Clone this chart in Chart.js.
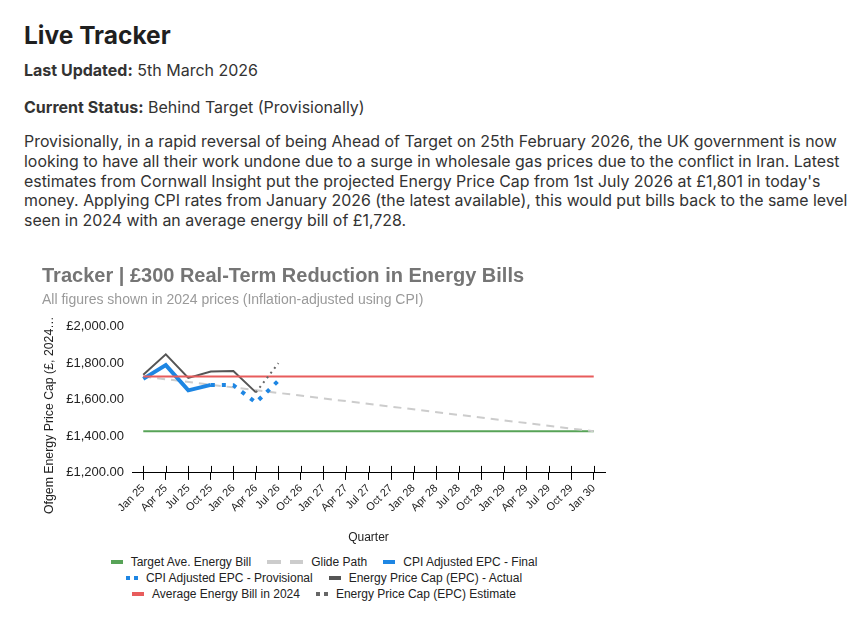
<!DOCTYPE html>
<html>
<head>
<meta charset="utf-8">
<script src="https://cdn.jsdelivr.net/npm/chart.js@4"></script>
<style>
  body { margin: 0; background: #fff; font-family: Inter, "Noto Sans", sans-serif; color: #333; }
  h1 { position: absolute; left: 24px; top: 20px; margin: 0; font-size: 24.5px; font-weight: 700; color: #1f1f1f; }
  .line { position: absolute; left: 24px; margin: 0; font-size: 16px; }
  .line b { color: #333; font-weight: 700; }
  #para { position: absolute; left: 24px; top: 132px; width: 830px; margin: 0; font-size: 15.92px; line-height: 19.8px; }
  #wrap { position: absolute; left: 24px; top: 252px; width: 600px; height: 293px; }
  #legend { position: absolute; left: 24px; top: 554px; width: 600px; font-family: "Liberation Sans", Arial, sans-serif; font-size: 12px; color: #222; }
  .row { display: flex; justify-content: center; height: 16px; align-items: center; }
  .item { display: flex; align-items: center; margin: 0 8px; }
  .item svg { margin-right: 8px; }
</style>
</head>
<body>
<h1>Live Tracker</h1>
<p class="line" style="top:60px"><b>Last Updated:</b> 5th March 2026</p>
<p class="line" style="top:97px"><b>Current Status:</b> Behind Target (Provisionally)</p>
<p id="para">Provisionally, in a rapid reversal of being Ahead of Target on 25th February 2026, the UK government is now looking to have all their work undone due to a surge in wholesale gas prices due to the conflict in Iran. Latest estimates from Cornwall Insight put the projected Energy Price Cap from 1st July 2026 at £1,801 in today's money. Applying CPI rates from January 2026 (the latest available), this would put bills back to the same level seen in 2024 with an average energy bill of £1,728.</p>
<div id="wrap"><canvas id="grafico"></canvas></div>
<div id="legend"></div>
<script>
const quarters = ['Jan 25', 'Apr 25', 'Jul 25', 'Oct 25', 'Jan 26', 'Apr 26', 'Jul 26', 'Oct 26',
   'Jan 27', 'Apr 27', 'Jul 27', 'Oct 27', 'Jan 28', 'Apr 28', 'Jul 28', 'Oct 28',
   'Jan 29', 'Apr 29', 'Jul 29', 'Oct 29', 'Jan 30'];
const yTicks = [1200, 1400, 1600, 1800, 2000];

// flat / straight series only have their two end points
const endQuarters = ['Jan 25', 'Jan 30'];
const targetBill = [1428, 1428];
const glidePath = [1728, 1428];
const avgBill2024 = [1728, 1728];

const finalQuarters = ['Jan 25', 'Apr 25', 'Jul 25', 'Oct 25'];
const cpiFinal = [1715, 1790, 1652, 1682];
const provQuarters = ['Oct 25', 'Jan 26', 'Apr 26', 'Jul 26'];
const cpiProvisional = [1682, 1680, 1585, 1705];
const actualQuarters = ['Jan 25', 'Apr 25', 'Jul 25', 'Oct 25', 'Jan 26', 'Apr 26'];
const epcActual = [1738, 1849, 1720, 1755, 1758, 1641];
const estQuarters = ['Apr 26', 'Jul 26'];
const epcEstimate = [1641, 1801];

function pts(labels, values) {
   return values.map((v, i) => ({ x: labels[i], y: v }));
}

const series = [
   { label: 'Target Ave. Energy Bill', data: pts(endQuarters, targetBill), color: '#57a357', width: 2, dash: [], mark: 12, markDash: '' },
   { label: 'Glide Path', data: pts(endQuarters, glidePath), color: '#cccccc', width: 2, dash: [8, 6], mark: 36, markDash: '14 9' },
   { label: 'CPI Adjusted EPC - Final', data: pts(finalQuarters, cpiFinal), color: '#1e86e3', width: 4, dash: [], mark: 12, markDash: '' },
   { label: 'CPI Adjusted EPC - Provisional', data: pts(provQuarters, cpiProvisional), color: '#1e86e3', width: 4, dash: [4, 7], mark: 12, markDash: '4 4' },
   { label: 'Energy Price Cap (EPC) - Actual', data: pts(actualQuarters, epcActual), color: '#555555', width: 2, dash: [], mark: 12, markDash: '' },
   { label: 'Average Energy Bill in 2024', data: pts(endQuarters, avgBill2024), color: '#e85c5c', width: 2, dash: [], mark: 12, markDash: '' },
   { label: 'Energy Price Cap (EPC) Estimate', data: pts(estQuarters, epcEstimate), color: '#666666', width: 2, dash: [2, 4], mark: 12, markDash: '4 4' }
];

const datasets = series.map((s, i) => ({
   label: s.label,
   data: s.data,
   borderColor: s.color,
   backgroundColor: s.color,
   borderWidth: s.width,
   borderDash: s.dash,
   pointRadius: 0,
   tension: 0,
   fill: false,
   order: series.length - i
}));

// tick marks on the x axis cross the line (upper half)
const crossTicks = {
   id: 'crossTicks',
   afterDraw(chart) {
      const sx = chart.scales.x;
      const ctx = chart.ctx;
      ctx.save();
      ctx.strokeStyle = '#000';
      ctx.lineWidth = 1;
      ctx.beginPath();
      for (let i = 0; i < quarters.length; i++) {
         const x = Math.round(sx.getPixelForTick(i)) + 0.5;
         ctx.moveTo(x, sx.top - 7);
         ctx.lineTo(x, sx.top);
      }
      ctx.stroke();
      ctx.restore();
   }
};

const grafico = document.getElementById('grafico').getContext('2d');
const chart1 = new Chart(grafico, {
   type: 'line',
   data: { labels: quarters, datasets },
   plugins: [crossTicks],
   options: {
      responsive: true,
      maintainAspectRatio: false,
      animation: false,
      layout: { padding: { left: 18, right: 19, top: 0, bottom: 0 } },
      plugins: {
         legend: { display: false },
         tooltip: { enabled: false },
         title: {
            display: true,
            text: 'Tracker | £300 Real-Term Reduction in Energy Bills',
            align: 'start',
            color: '#757575',
            font: { family: '"Liberation Sans", Arial', size: 20, weight: 'bold' },
            padding: { top: 12, bottom: 4 }
         },
         subtitle: {
            display: true,
            text: 'All figures shown in 2024 prices (Inflation-adjusted using CPI)',
            align: 'start',
            color: '#9a9a9a',
            font: { family: '"Liberation Sans", Arial', size: 14 },
            padding: { top: 0, bottom: 18 }
         }
      },
      scales: {
         x: {
            type: 'category',
            offset: true,
            grid: { display: true, drawOnChartArea: false, tickLength: 7, color: '#000' },
            border: { display: true, color: '#000', width: 1 },
            ticks: {
               autoSkip: false,
               minRotation: 45,
               maxRotation: 45,
               color: '#222',
               padding: 2,
               font: { family: '"Liberation Sans", Arial', size: 11 }
            },
            title: {
               display: true,
               text: 'Quarter',
               color: '#222',
               font: { family: '"Liberation Sans", Arial', size: 12 },
               padding: { top: 14, bottom: 0 }
            }
         },
         y: {
            min: yTicks[0],
            max: yTicks[yTicks.length - 1],
            afterBuildTicks: s => { s.ticks = yTicks.map(v => ({ value: v })); },
            afterFit: s => { s.width = 90; },
            grid: { display: false },
            border: { display: false },
            ticks: {
               color: '#222',
               padding: 0,
               font: { family: '"Liberation Sans", Arial', size: 13 },
               callback: v => '£' + v.toLocaleString('en-GB', { minimumFractionDigits: 2, maximumFractionDigits: 2 })
            },
            title: {
               display: true,
               // trailing nbsp pushes the rotated title down like the original
               text: 'Ofgem Energy Price Cap (£, 2024…' + '\u00a0'.repeat(9),
               color: '#222',
               font: { family: '"Liberation Sans", Arial', size: 12.3 },
               padding: { top: 0, bottom: 4 }
            }
         }
      }
   }
});

// legend rows built from the chart's datasets
const legendRows = [[0, 1, 2], [3, 4], [5, 6]];
const legendEl = document.getElementById('legend');
legendRows.forEach(row => {
   const r = document.createElement('div');
   r.className = 'row';
   row.forEach(i => {
      const s = series[i];
      const ds = chart1.data.datasets[i];
      const it = document.createElement('div');
      it.className = 'item';
      it.innerHTML = '<svg width="' + s.mark + '" height="6"><line x1="0" y1="3" x2="' + s.mark +
         '" y2="3" stroke="' + ds.borderColor + '" stroke-width="4"' +
         (s.markDash ? ' stroke-dasharray="' + s.markDash + '"' : '') + '/></svg><span>' + ds.label + '</span>';
      r.appendChild(it);
   });
   legendEl.appendChild(r);
});
</script>
</body>
</html>
